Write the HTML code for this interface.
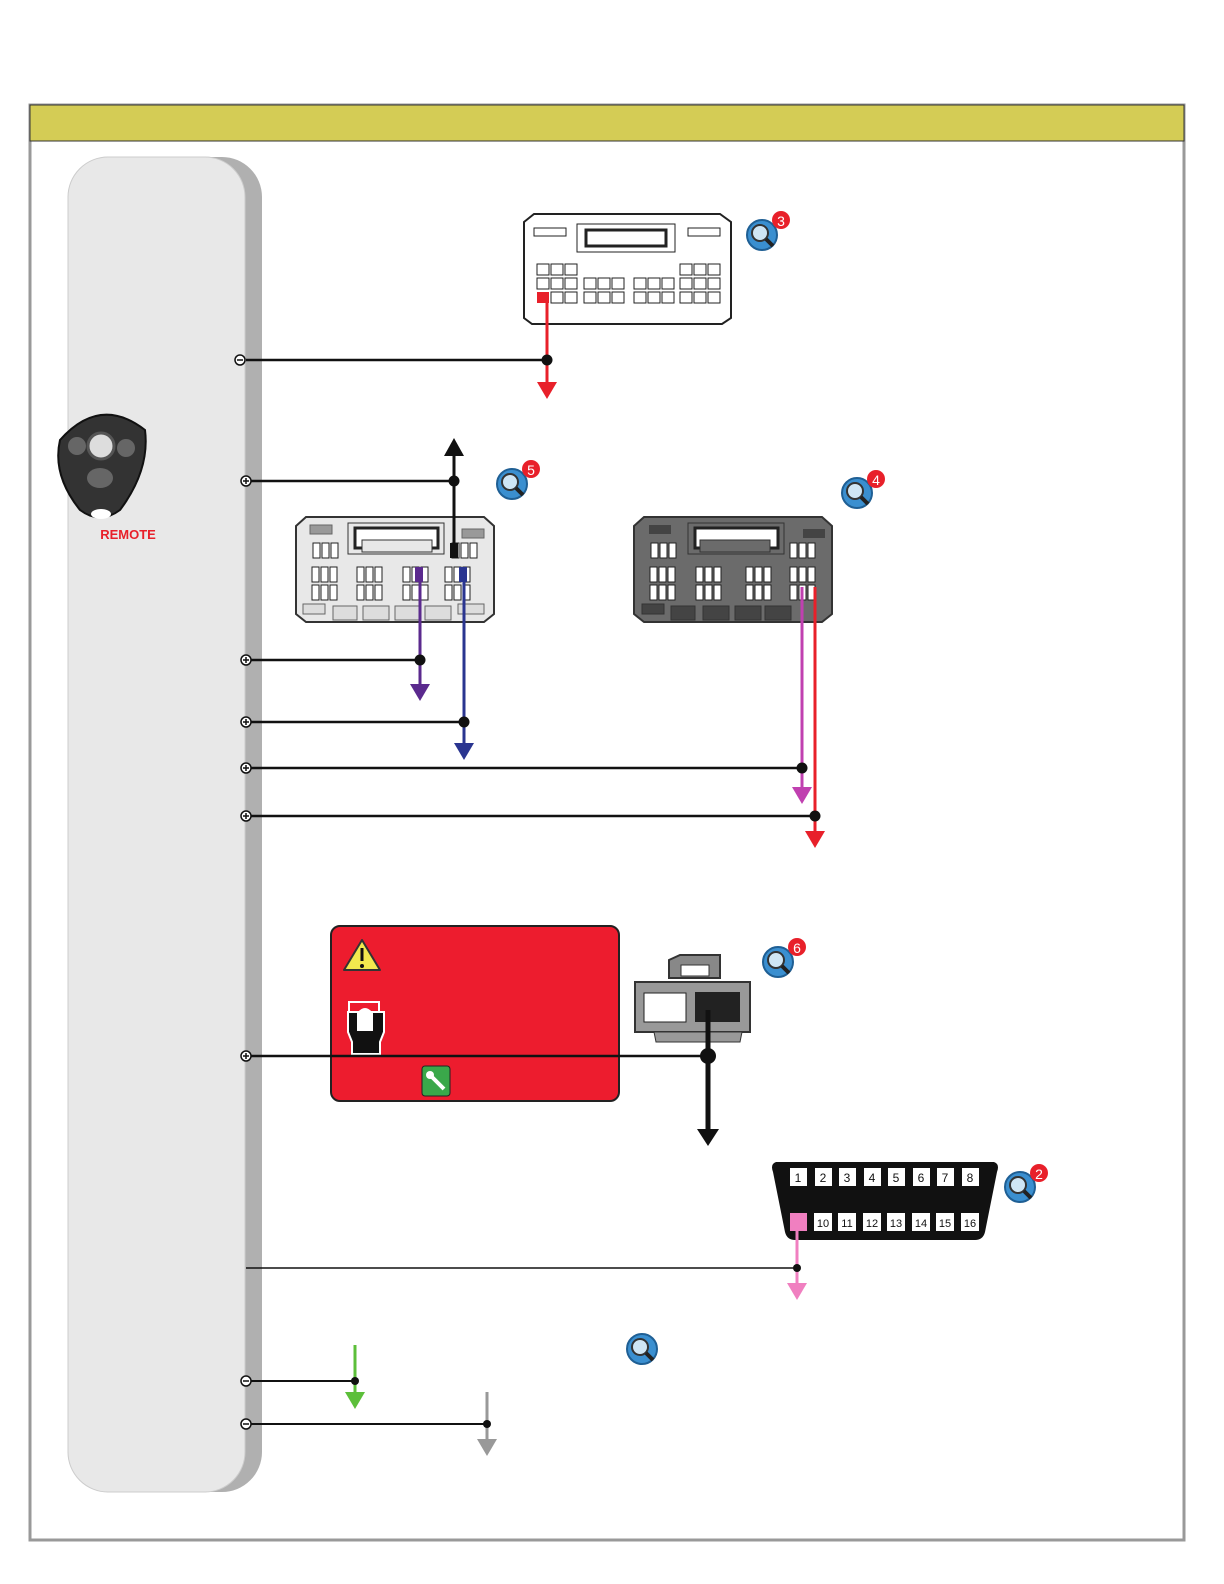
<!DOCTYPE html>
<html><head><style>html,body{margin:0;padding:0;width:1224px;height:1584px;overflow:hidden;background:#fff}svg{display:block}</style></head><body>
<svg width="1224" height="1584" viewBox="0 0 1224 1584" xmlns="http://www.w3.org/2000/svg" font-family="Liberation Sans, sans-serif">
<defs>
<g id="mag"><circle cx="0" cy="0" r="15" fill="#3a8fd0" stroke="#1f5f94" stroke-width="2"/><circle cx="-2" cy="-2" r="8" fill="#cfe6f5" stroke="#333" stroke-width="2"/><line x1="4" y1="4" x2="11" y2="11" stroke="#222" stroke-width="4"/></g>
<g id="plus"><circle r="5" fill="#fff" stroke="#111" stroke-width="1.5"/><line x1="-3" x2="3" stroke="#111" stroke-width="1.5"/><line y1="-3" y2="3" stroke="#111" stroke-width="1.5"/></g>
<g id="minus"><circle r="5" fill="#fff" stroke="#111" stroke-width="1.5"/><line x1="-3" x2="3" stroke="#111" stroke-width="1.5"/></g>
<g id="cell3"><rect x="0" y="0" width="7" height="15" fill="#fff" stroke="#222" stroke-width="1"/><rect x="9" y="0" width="7" height="15" fill="#fff" stroke="#222" stroke-width="1"/><rect x="18" y="0" width="7" height="15" fill="#fff" stroke="#222" stroke-width="1"/></g>
</defs>
<rect x="30" y="105" width="1154" height="1435" fill="#fff" stroke="#999" stroke-width="3"/>
<rect x="30" y="105" width="1154" height="36" fill="#d4cc55" stroke="#333" stroke-width="1"/>
<rect x="78" y="157" width="184" height="1335" rx="40" fill="#b0b0b0"/>
<rect x="68" y="157" width="177" height="1335" rx="40" fill="#e8e8e8" stroke="#ccc"/>
<path d="M60 440 Q100 395 145 430 Q150 470 120 510 Q100 525 80 510 Q52 475 60 440Z" fill="#333" stroke="#111" stroke-width="2"/>
<circle cx="101" cy="446" r="13" fill="#ddd" stroke="#555" stroke-width="3"/>
<circle cx="77" cy="446" r="9" fill="#666"/><circle cx="126" cy="448" r="9" fill="#666"/>
<ellipse cx="100" cy="478" rx="13" ry="10" fill="#666"/>
<ellipse cx="101" cy="514" rx="10" ry="5" fill="#fff"/>
<text x="128" y="539" text-anchor="middle" font-size="13" font-weight="bold" fill="#e8202a">REMOTE</text>
<path d="M524 222 L534 214 L720 214 L731 222 L731 318 L722 324 L532 324 L524 318Z" fill="#fff" stroke="#222" stroke-width="2"/>
<rect x="534" y="228" width="32" height="8" fill="#fff" stroke="#222"/><rect x="688" y="228" width="32" height="8" fill="#fff" stroke="#222"/>
<rect x="577" y="224" width="98" height="28" fill="#fff" stroke="#222"/>
<path d="M586 230 L666 230 L666 246 L586 246Z" fill="#fff" stroke="#222" stroke-width="3"/>
<g fill="#fff" stroke="#222">
<rect x="537" y="264" width="12" height="11"/><rect x="551" y="264" width="12" height="11"/><rect x="565" y="264" width="12" height="11"/>
<rect x="537" y="278" width="12" height="11"/><rect x="551" y="278" width="12" height="11"/><rect x="565" y="278" width="12" height="11"/>
<rect x="551" y="292" width="12" height="11"/><rect x="565" y="292" width="12" height="11"/>
<rect x="584" y="278" width="12" height="11"/><rect x="598" y="278" width="12" height="11"/><rect x="612" y="278" width="12" height="11"/>
<rect x="584" y="292" width="12" height="11"/><rect x="598" y="292" width="12" height="11"/><rect x="612" y="292" width="12" height="11"/>
<rect x="634" y="278" width="12" height="11"/><rect x="648" y="278" width="12" height="11"/><rect x="662" y="278" width="12" height="11"/>
<rect x="634" y="292" width="12" height="11"/><rect x="648" y="292" width="12" height="11"/><rect x="662" y="292" width="12" height="11"/>
<rect x="680" y="264" width="12" height="11"/><rect x="694" y="264" width="12" height="11"/><rect x="708" y="264" width="12" height="11"/>
<rect x="680" y="278" width="12" height="11"/><rect x="694" y="278" width="12" height="11"/><rect x="708" y="278" width="12" height="11"/>
<rect x="680" y="292" width="12" height="11"/><rect x="694" y="292" width="12" height="11"/><rect x="708" y="292" width="12" height="11"/>
</g>
<rect x="537" y="292" width="12" height="11" fill="#e8202a"/>
<line x1="547" y1="300" x2="547" y2="385" stroke="#e8202a" stroke-width="3"/>
<polygon points="537,382 557,382 547,399" fill="#e8202a"/>
<line x1="246" y1="360" x2="547" y2="360" stroke="#111" stroke-width="2.5"/><circle cx="547" cy="360" r="5.5" fill="#111"/>
<use href="#minus" x="240" y="360"/>
<use href="#mag" x="762" y="235"/><circle cx="781" cy="220" r="9" fill="#e8202a"/><text x="781" y="226" font-size="14" fill="#fff" text-anchor="middle">3</text>
<path d="M296 526 L306 517 L484 517 L494 526 L494 614 L484 622 L306 622 L296 614Z" fill="#e8e8e8" stroke="#333" stroke-width="2"/>
<rect x="310" y="525" width="22" height="9" fill="#999" stroke="#666"/><rect x="462" y="529" width="22" height="9" fill="#999" stroke="#666"/>
<rect x="348" y="523" width="96" height="31" fill="#e8e8e8" stroke="#333"/>
<path d="M355 528 L438 528 L438 548 L355 548Z" fill="#fff" stroke="#222" stroke-width="3"/>
<rect x="362" y="540" width="70" height="12" fill="#e8e8e8" stroke="#333"/>
<use href="#cell3" x="313" y="543"/><use href="#cell3" x="452" y="543"/>
<use href="#cell3" x="312" y="567"/><use href="#cell3" x="312" y="585"/>
<use href="#cell3" x="357" y="567"/><use href="#cell3" x="357" y="585"/>
<use href="#cell3" x="403" y="567"/><use href="#cell3" x="403" y="585"/>
<use href="#cell3" x="445" y="567"/><use href="#cell3" x="445" y="585"/>
<g fill="#ddd" stroke="#666"><rect x="333" y="606" width="24" height="14"/><rect x="363" y="606" width="26" height="14"/><rect x="395" y="606" width="26" height="14"/><rect x="425" y="606" width="26" height="14"/><rect x="303" y="604" width="22" height="10"/><rect x="458" y="604" width="26" height="10"/></g>
<rect x="450" y="543" width="8" height="15" fill="#111"/>
<rect x="415" y="567" width="8" height="15" fill="#5b2a8e"/><rect x="459" y="567" width="8" height="15" fill="#2a3590"/>
<line x1="454" y1="450" x2="454" y2="552" stroke="#111" stroke-width="3"/>
<polygon points="444,456 464,456 454,438" fill="#111"/>
<line x1="246" y1="481" x2="454" y2="481" stroke="#111" stroke-width="2.5"/><circle cx="454" cy="481" r="5.5" fill="#111"/>
<use href="#plus" x="246" y="481"/>
<use href="#mag" x="512" y="484"/><circle cx="531" cy="469" r="9" fill="#e8202a"/><text x="531" y="475" font-size="14" fill="#fff" text-anchor="middle">5</text>
<line x1="420" y1="570" x2="420" y2="688" stroke="#5b2a8e" stroke-width="3"/><polygon points="410,684 430,684 420,701" fill="#5b2a8e"/>
<line x1="464" y1="570" x2="464" y2="746" stroke="#2a3590" stroke-width="3"/><polygon points="454,743 474,743 464,760" fill="#2a3590"/>
<line x1="246" y1="660" x2="420" y2="660" stroke="#111" stroke-width="2.5"/><circle cx="420" cy="660" r="5.5" fill="#111"/><use href="#plus" x="246" y="660"/>
<line x1="246" y1="722" x2="464" y2="722" stroke="#111" stroke-width="2.5"/><circle cx="464" cy="722" r="5.5" fill="#111"/><use href="#plus" x="246" y="722"/>
<path d="M634 526 L644 517 L822 517 L832 526 L832 614 L822 622 L644 622 L634 614Z" fill="#6b6b6b" stroke="#333" stroke-width="2"/>
<rect x="649" y="525" width="22" height="9" fill="#444"/><rect x="803" y="529" width="22" height="9" fill="#444"/>
<rect x="688" y="523" width="96" height="31" fill="#6b6b6b" stroke="#333"/>
<path d="M695 528 L778 528 L778 548 L695 548Z" fill="#fff" stroke="#222" stroke-width="3"/>
<rect x="700" y="540" width="70" height="12" fill="#6b6b6b" stroke="#333"/>
<use href="#cell3" x="651" y="543"/><use href="#cell3" x="790" y="543"/>
<use href="#cell3" x="650" y="567"/><use href="#cell3" x="650" y="585"/>
<use href="#cell3" x="696" y="567"/><use href="#cell3" x="696" y="585"/>
<use href="#cell3" x="746" y="567"/><use href="#cell3" x="746" y="585"/>
<use href="#cell3" x="790" y="567"/><use href="#cell3" x="790" y="585"/>
<g fill="#444" stroke="#333"><rect x="671" y="606" width="24" height="14"/><rect x="703" y="606" width="26" height="14"/><rect x="735" y="606" width="26" height="14"/><rect x="765" y="606" width="26" height="14"/><rect x="642" y="604" width="22" height="10"/></g>
<line x1="802" y1="587" x2="802" y2="790" stroke="#c040b0" stroke-width="3"/><polygon points="792,787 812,787 802,804" fill="#c040b0"/>
<line x1="815" y1="587" x2="815" y2="834" stroke="#e8202a" stroke-width="3"/><polygon points="805,831 825,831 815,848" fill="#e8202a"/>
<line x1="246" y1="768" x2="802" y2="768" stroke="#111" stroke-width="2.5"/><circle cx="802" cy="768" r="5.5" fill="#111"/><use href="#plus" x="246" y="768"/>
<line x1="246" y1="816" x2="815" y2="816" stroke="#111" stroke-width="2.5"/><circle cx="815" cy="816" r="5.5" fill="#111"/><use href="#plus" x="246" y="816"/>
<use href="#mag" x="857" y="493"/><circle cx="876" cy="479" r="9" fill="#e8202a"/><text x="876" y="485" font-size="14" fill="#fff" text-anchor="middle">4</text>
<rect x="331" y="926" width="288" height="175" rx="9" fill="#ed1c2e" stroke="#222" stroke-width="2"/>
<polygon points="362,940 380,970 344,970" fill="#f2e94e" stroke="#333" stroke-width="2" stroke-linejoin="round"/>
<line x1="362" y1="948" x2="362" y2="961" stroke="#111" stroke-width="3"/><circle cx="362" cy="966" r="2" fill="#111"/>
<rect x="349" y="1002" width="30" height="14" fill="none" stroke="#fff" stroke-width="2"/>
<path d="M348 1012 L358 1012 L358 1030 L372 1030 L372 1012 L384 1012 L384 1032 L380 1042 L380 1054 L352 1054 L352 1042 L348 1032Z" fill="#111" stroke="#fff" stroke-width="2"/>
<path d="M358 1030 L358 1012 Q365 1004 372 1012 L372 1030Z" fill="#fff"/>
<rect x="422" y="1066" width="28" height="30" rx="3" fill="#3aa84a" stroke="#222"/>
<path d="M428 1073 L444 1089" stroke="#fff" stroke-width="4"/><circle cx="430" cy="1075" r="4" fill="#fff"/>
<path d="M669 960 L680 955 L720 955 L720 978 L669 978Z" fill="#888" stroke="#333" stroke-width="2"/>
<rect x="681" y="965" width="28" height="11" fill="#fff" stroke="#333"/>
<rect x="635" y="982" width="115" height="50" fill="#999" stroke="#333" stroke-width="2"/>
<rect x="644" y="993" width="42" height="29" fill="#fff" stroke="#222"/>
<rect x="695" y="992" width="45" height="30" fill="#222"/>
<path d="M654 1032 L742 1032 L740 1042 L656 1042Z" fill="#999" stroke="#333"/>
<line x1="708" y1="1010" x2="708" y2="1132" stroke="#111" stroke-width="5"/>
<polygon points="697,1129 719,1129 708,1146" fill="#111"/>
<line x1="246" y1="1056" x2="708" y2="1056" stroke="#111" stroke-width="2.5"/><circle cx="708" cy="1056" r="8" fill="#111"/><use href="#plus" x="246" y="1056"/>
<use href="#mag" x="778" y="962"/><circle cx="797" cy="947" r="9" fill="#e8202a"/><text x="797" y="953" font-size="14" fill="#fff" text-anchor="middle">6</text>
<path d="M776 1162 L994 1162 Q1000 1164 997 1172 L985 1232 Q983 1240 975 1240 L795 1240 Q787 1240 785 1232 L773 1172 Q770 1164 776 1162Z" fill="#111"/>
<g font-size="12" fill="#111" text-anchor="middle">
<rect x="790" y="1168" width="17" height="18" fill="#fff"/><text x="798" y="1182">1</text>
<rect x="815" y="1168" width="17" height="18" fill="#fff"/><text x="823" y="1182">2</text>
<rect x="839" y="1168" width="17" height="18" fill="#fff"/><text x="847" y="1182">3</text>
<rect x="864" y="1168" width="17" height="18" fill="#fff"/><text x="872" y="1182">4</text>
<rect x="888" y="1168" width="17" height="18" fill="#fff"/><text x="896" y="1182">5</text>
<rect x="913" y="1168" width="17" height="18" fill="#fff"/><text x="921" y="1182">6</text>
<rect x="937" y="1168" width="17" height="18" fill="#fff"/><text x="945" y="1182">7</text>
<rect x="962" y="1168" width="17" height="18" fill="#fff"/><text x="970" y="1182">8</text>
<rect x="790" y="1213" width="17" height="18" fill="#f07fc0"/>
<rect x="814" y="1213" width="18" height="18" fill="#fff"/><text x="823" y="1227" font-size="11">10</text>
<rect x="838" y="1213" width="18" height="18" fill="#fff"/><text x="847" y="1227" font-size="11">11</text>
<rect x="863" y="1213" width="18" height="18" fill="#fff"/><text x="872" y="1227" font-size="11">12</text>
<rect x="887" y="1213" width="18" height="18" fill="#fff"/><text x="896" y="1227" font-size="11">13</text>
<rect x="912" y="1213" width="18" height="18" fill="#fff"/><text x="921" y="1227" font-size="11">14</text>
<rect x="936" y="1213" width="18" height="18" fill="#fff"/><text x="945" y="1227" font-size="11">15</text>
<rect x="961" y="1213" width="18" height="18" fill="#fff"/><text x="970" y="1227" font-size="11">16</text>
</g>
<line x1="797" y1="1225" x2="797" y2="1286" stroke="#f07fc0" stroke-width="3"/><polygon points="787,1283 807,1283 797,1300" fill="#f07fc0"/>
<line x1="246" y1="1268" x2="797" y2="1268" stroke="#111" stroke-width="1.5"/><circle cx="797" cy="1268" r="4" fill="#111"/>
<use href="#mag" x="1020" y="1187"/><circle cx="1039" cy="1173" r="9" fill="#e8202a"/><text x="1039" y="1179" font-size="14" fill="#fff" text-anchor="middle">2</text>
<use href="#mag" x="642" y="1349"/>
<line x1="355" y1="1345" x2="355" y2="1396" stroke="#5cbf3a" stroke-width="3"/><polygon points="345,1392 365,1392 355,1409" fill="#5cbf3a"/>
<line x1="246" y1="1381" x2="355" y2="1381" stroke="#111" stroke-width="2"/><circle cx="355" cy="1381" r="4" fill="#111"/><use href="#minus" x="246" y="1381"/>
<line x1="487" y1="1392" x2="487" y2="1442" stroke="#999" stroke-width="3"/><polygon points="477,1439 497,1439 487,1456" fill="#999"/>
<line x1="246" y1="1424" x2="487" y2="1424" stroke="#111" stroke-width="2"/><circle cx="487" cy="1424" r="4" fill="#111"/><use href="#minus" x="246" y="1424"/>
</svg>
</body></html>
